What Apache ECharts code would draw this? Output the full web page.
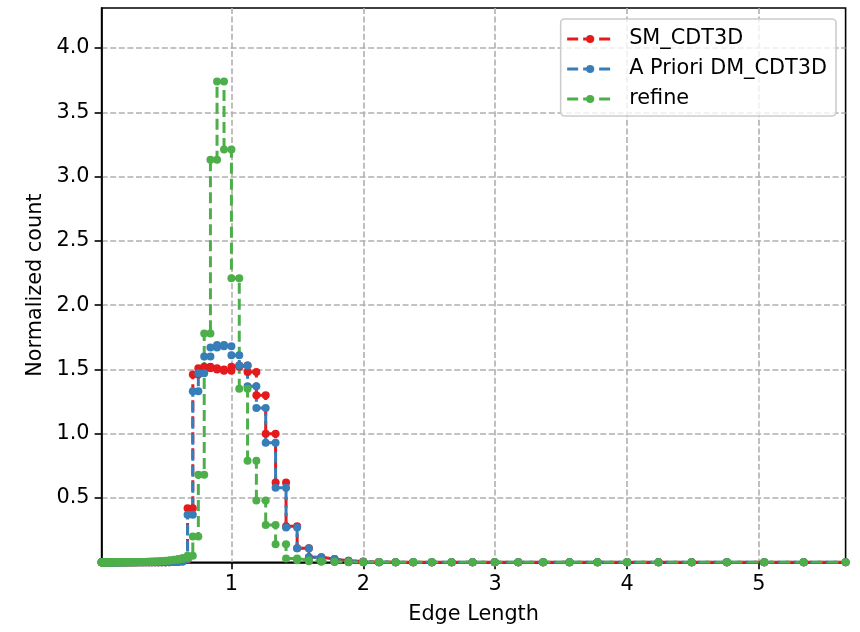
<!DOCTYPE html>
<html>
<head>
<meta charset="utf-8">
<title>Edge length histogram</title>
<script src="https://cdn.jsdelivr.net/npm/echarts@6/dist/echarts.min.js"></script>
<style>
  html, body { margin: 0; padding: 0; background: #fff; }
  #chart { width: 860px; height: 632px; }
</style>
</head>
<body>
<div id="chart"></div>
<script>
// bins are 12 per octave: edge k = 2^(k/12), k = -72 .. 30
const edgeExponents = [];
for (let k = -72; k <= 30; k++) edgeExponents.push(k / 12);

// normalized counts per bin (one line per octave, k = -72 .. 29)
const smCdt3d = [
  0, 0, 0, 0, 0, 0, 0, 0, 0, 0, 0, 0,
  0, 0, 0, 0, 0, 0, 0, 0, 0, 0, 0, 0,
  0, 0, 0, 0, 0, 0, 0, 0, 0, 0, 0, 0,
  0, 0, 0, 0, 0, 0, 0, 0, 0, 0, 0, 0,
  0, 0, 0, 0, 0, 0, 0, 0, 0, 0, 0, 0.001,
  0.001, 0.002, 0.003, 0.006, 0.02, 0.42, 1.46, 1.51, 1.52, 1.51, 1.50, 1.49,
  1.52, 1.53, 1.48, 1.30, 1.00, 0.62, 0.28, 0.11, 0.04, 0.025, 0.012, 0.006,
  0.003, 0.001, 0, 0, 0, 0, 0, 0, 0, 0, 0, 0,
  0, 0, 0, 0, 0, 0
];
const aprioriDm = [
  0, 0, 0, 0, 0, 0, 0, 0, 0, 0, 0, 0,
  0, 0, 0, 0, 0, 0, 0, 0, 0, 0, 0, 0,
  0, 0, 0, 0, 0, 0, 0, 0, 0, 0, 0, 0,
  0, 0, 0, 0, 0, 0, 0, 0, 0, 0, 0, 0,
  0, 0, 0, 0, 0, 0, 0, 0, 0, 0, 0, 0.001,
  0.001, 0.002, 0.003, 0.006, 0.025, 0.37, 1.33, 1.47, 1.60, 1.67, 1.69, 1.68,
  1.61, 1.53, 1.37, 1.20, 0.93, 0.58, 0.27, 0.11, 0.04, 0.025, 0.012, 0.005,
  0.002, 0.001, 0, 0, 0, 0, 0, 0, 0, 0, 0, 0,
  0, 0, 0, 0, 0, 0
];
const refine = [
  0, 0, 0, 0, 0, 0, 0, 0, 0, 0, 0, 0,
  0, 0, 0, 0, 0, 0, 0, 0, 0, 0, 0, 0,
  0, 0, 0, 0, 0, 0, 0, 0, 0, 0, 0, 0,
  0, 0, 0, 0, 0, 0, 0, 0, 0, 0, 0, 0,
  0.001, 0.001, 0.002, 0.002, 0.003, 0.003, 0.004, 0.005, 0.006, 0.007, 0.008, 0.01,
  0.012, 0.015, 0.019, 0.025, 0.033, 0.05, 0.20, 0.68, 1.78, 3.13, 3.74, 3.21,
  2.21, 1.35, 0.79, 0.48, 0.29, 0.14, 0.03, 0.015, 0.008, 0.004, 0.002, 0.001,
  0, 0, 0, 0, 0, 0, 0, 0, 0, 0, 0, 0,
  0, 0, 0, 0, 0, 0
];

const seriesNames = ['SM_CDT3D', 'A Priori DM_CDT3D', 'refine'];
const seriesColors = ['#e41a1c', '#377eb8', '#4daf4a'];
const xTicks = [1, 2, 3, 4, 5];
const yTicks = [0.5, 1.0, 1.5, 2.0, 2.5, 3.0, 3.5, 4.0];

const edges = edgeExponents.map(e => Math.pow(2, e));

// each bin drawn as a flat step with a dot at both edges
function stepPoints(values) {
  const pts = [];
  values.forEach((v, i) => {
    pts.push([edges[i], v]);
    pts.push([edges[i + 1], v]);
  });
  return pts;
}

const chart = echarts.init(document.getElementById('chart'), null, { renderer: 'canvas' });

const font = 'DejaVu Sans';
const fs = 20.8;

chart.setOption({
  animation: false,
  textStyle: { fontFamily: font },
  grid: {
    left: 101.6,
    top: 8,
    width: 744,
    height: 554.3,
    show: true,
    borderColor: '#000',
    borderWidth: 1.6,
    backgroundColor: 'transparent'
  },
  legend: {
    orient: 'vertical',
    right: 24,
    top: 19,
    padding: [5, 9, 2, 5],
    itemGap: 0,
    itemWidth: 46,
    itemHeight: 10,
    backgroundColor: 'rgba(255,255,255,0.8)',
    borderColor: '#cccccc',
    borderWidth: 1.6,
    borderRadius: 4,
    lineStyle: { width: 3 },
    textStyle: {
      fontFamily: font,
      fontSize: fs,
      color: '#000',
      lineHeight: 30,
      padding: [0, 0, 0, 11]
    },
    data: seriesNames
  },
  xAxis: {
    type: 'value',
    min: edges[0],
    max: edges[edges.length - 1],
    name: 'Edge Length',
    nameLocation: 'middle',
    nameGap: 42,
    nameTextStyle: { fontFamily: font, fontSize: fs, color: '#000' },
    axisLine: { show: true, onZero: false, lineStyle: { color: '#000', width: 1.6 } },
    axisTick: { show: true, length: 7, lineStyle: { color: '#000', width: 1.6 }, customValues: xTicks },
    axisLabel: { fontFamily: font, fontSize: fs, color: '#000', margin: 12, customValues: xTicks },
    splitLine: {
      show: true,
      lineStyle: { color: '#b0b0b0', width: 1.6, type: [6, 2.6] }
    }
  },
  yAxis: {
    type: 'value',
    min: 0,
    max: 4.311,
    name: 'Normalized count',
    nameLocation: 'middle',
    nameGap: 55,
    nameTextStyle: { fontFamily: font, fontSize: fs, color: '#000' },
    axisLine: { show: true, lineStyle: { color: '#000', width: 1.6 } },
    axisTick: { show: true, length: 7, lineStyle: { color: '#000', width: 1.6 }, customValues: yTicks },
    axisLabel: {
      fontFamily: font, fontSize: fs, color: '#000', margin: 12,
      customValues: yTicks,
      formatter: v => v.toFixed(1)
    },
    splitLine: {
      show: true,
      lineStyle: { color: '#b0b0b0', width: 1.6, type: [6, 2.6] }
    }
  },
  series: [smCdt3d, aprioriDm, refine].map((vals, i) => ({
    name: seriesNames[i],
    type: 'line',
    data: stepPoints(vals),
    symbol: 'circle',
    symbolSize: 8,
    showSymbol: true,
    color: seriesColors[i],
    itemStyle: { color: seriesColors[i] },
    lineStyle: { color: seriesColors[i], width: 3, type: [11, 5] },
    emphasis: { disabled: true }
  }))
});
</script>
</body>
</html>
